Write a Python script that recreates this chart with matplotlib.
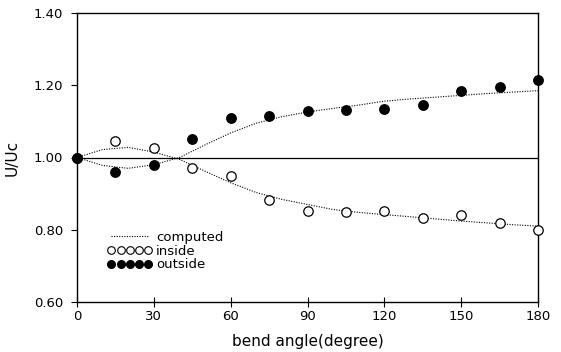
import numpy as np
import matplotlib
matplotlib.use('Agg')
import matplotlib.pyplot as plt
from matplotlib.lines import Line2D

# === DATOS MEDIDOS ===
angulos = [0, 15, 30, 45, 60, 75, 90, 105, 120, 135, 150, 165, 180]
inside = [1.000, 1.045, 1.025, 0.972, 0.950, 0.881, 0.851, 0.850, 0.853, 0.832, 0.840, 0.818, 0.800]
outside = [1.000, 0.961, 0.978, 1.050, 1.108, 1.116, 1.130, 1.132, 1.135, 1.146, 1.185, 1.196, 1.215]

# === CURVAS CALCULADAS ===
ang_calc = [0, 10, 20, 30, 40, 50, 60, 70, 80, 90, 100, 110, 120, 130, 140, 150, 160, 170, 180]
inside_calc = [1.000, 1.022, 1.028, 1.015, 0.995, 0.962, 0.930, 0.903, 0.884, 0.870, 0.856,
               0.848, 0.842, 0.836, 0.830, 0.824, 0.819, 0.814, 0.810]
outside_calc = [1.000, 0.978, 0.970, 0.980, 1.000, 1.035, 1.068, 1.095, 1.113, 1.126, 1.136,
                1.145, 1.156, 1.162, 1.167, 1.172, 1.177, 1.181, 1.185]

xticks = [0, 30, 60, 90, 120, 150, 180]
yticks = [0.60, 0.80, 1.00, 1.20, 1.40]

fig = plt.figure(figsize=(5.61, 3.52), dpi=100)
ax = fig.add_axes([77 / 561, 1 - 302 / 352, 461 / 561, 289 / 352])

punteado = dict(color='black', lw=0.8, linestyle=(0, (1, 1.3)))
ax.plot(ang_calc, inside_calc, **punteado)
ax.plot(ang_calc, outside_calc, **punteado)
ax.axhline(1.0, color='black', lw=0.9)

ax.plot(angulos, inside, 'o', mfc='white', mec='black', mew=0.9, ms=6.8, clip_on=False, zorder=3)
ax.plot(angulos, outside, 'o', mfc='black', mec='black', ms=6.8, clip_on=False, zorder=3)

ax.set_xlim(0, 180)
ax.set_ylim(0.60, 1.40)
ax.set_xticks(xticks)
ax.set_yticks(yticks)
ax.set_xticklabels([str(t) for t in xticks])
ax.set_yticklabels(['%.2f' % t for t in yticks])
ax.tick_params(axis='x', direction='inout', length=7, width=0.8, labelsize=9.5, pad=2)
ax.tick_params(axis='y', direction='out', length=4, width=0.8, labelsize=9.5, pad=6)
for s in ax.spines.values():
    s.set_linewidth(1.0)

ax.set_xlabel('bend angle(degree)', fontsize=11, labelpad=8)
ax.set_ylabel('U/Uc', fontsize=11, labelpad=10)

handles = [
    Line2D([], [], **punteado),
    Line2D([], [], marker='o', linestyle='none', mfc='white', mec='black', mew=0.8, ms=5.5),
    Line2D([], [], marker='o', linestyle='none', mfc='black', mec='black', ms=5.5),
]
ax.legend(handles, ['computed', 'inside', 'outside'], loc='lower left',
          bbox_to_anchor=(0.04, 0.065), frameon=False, numpoints=5,
          handlelength=3.4, handletextpad=0.3, labelspacing=0.05, fontsize=9.5)

fig.savefig('out.png', dpi=100)
